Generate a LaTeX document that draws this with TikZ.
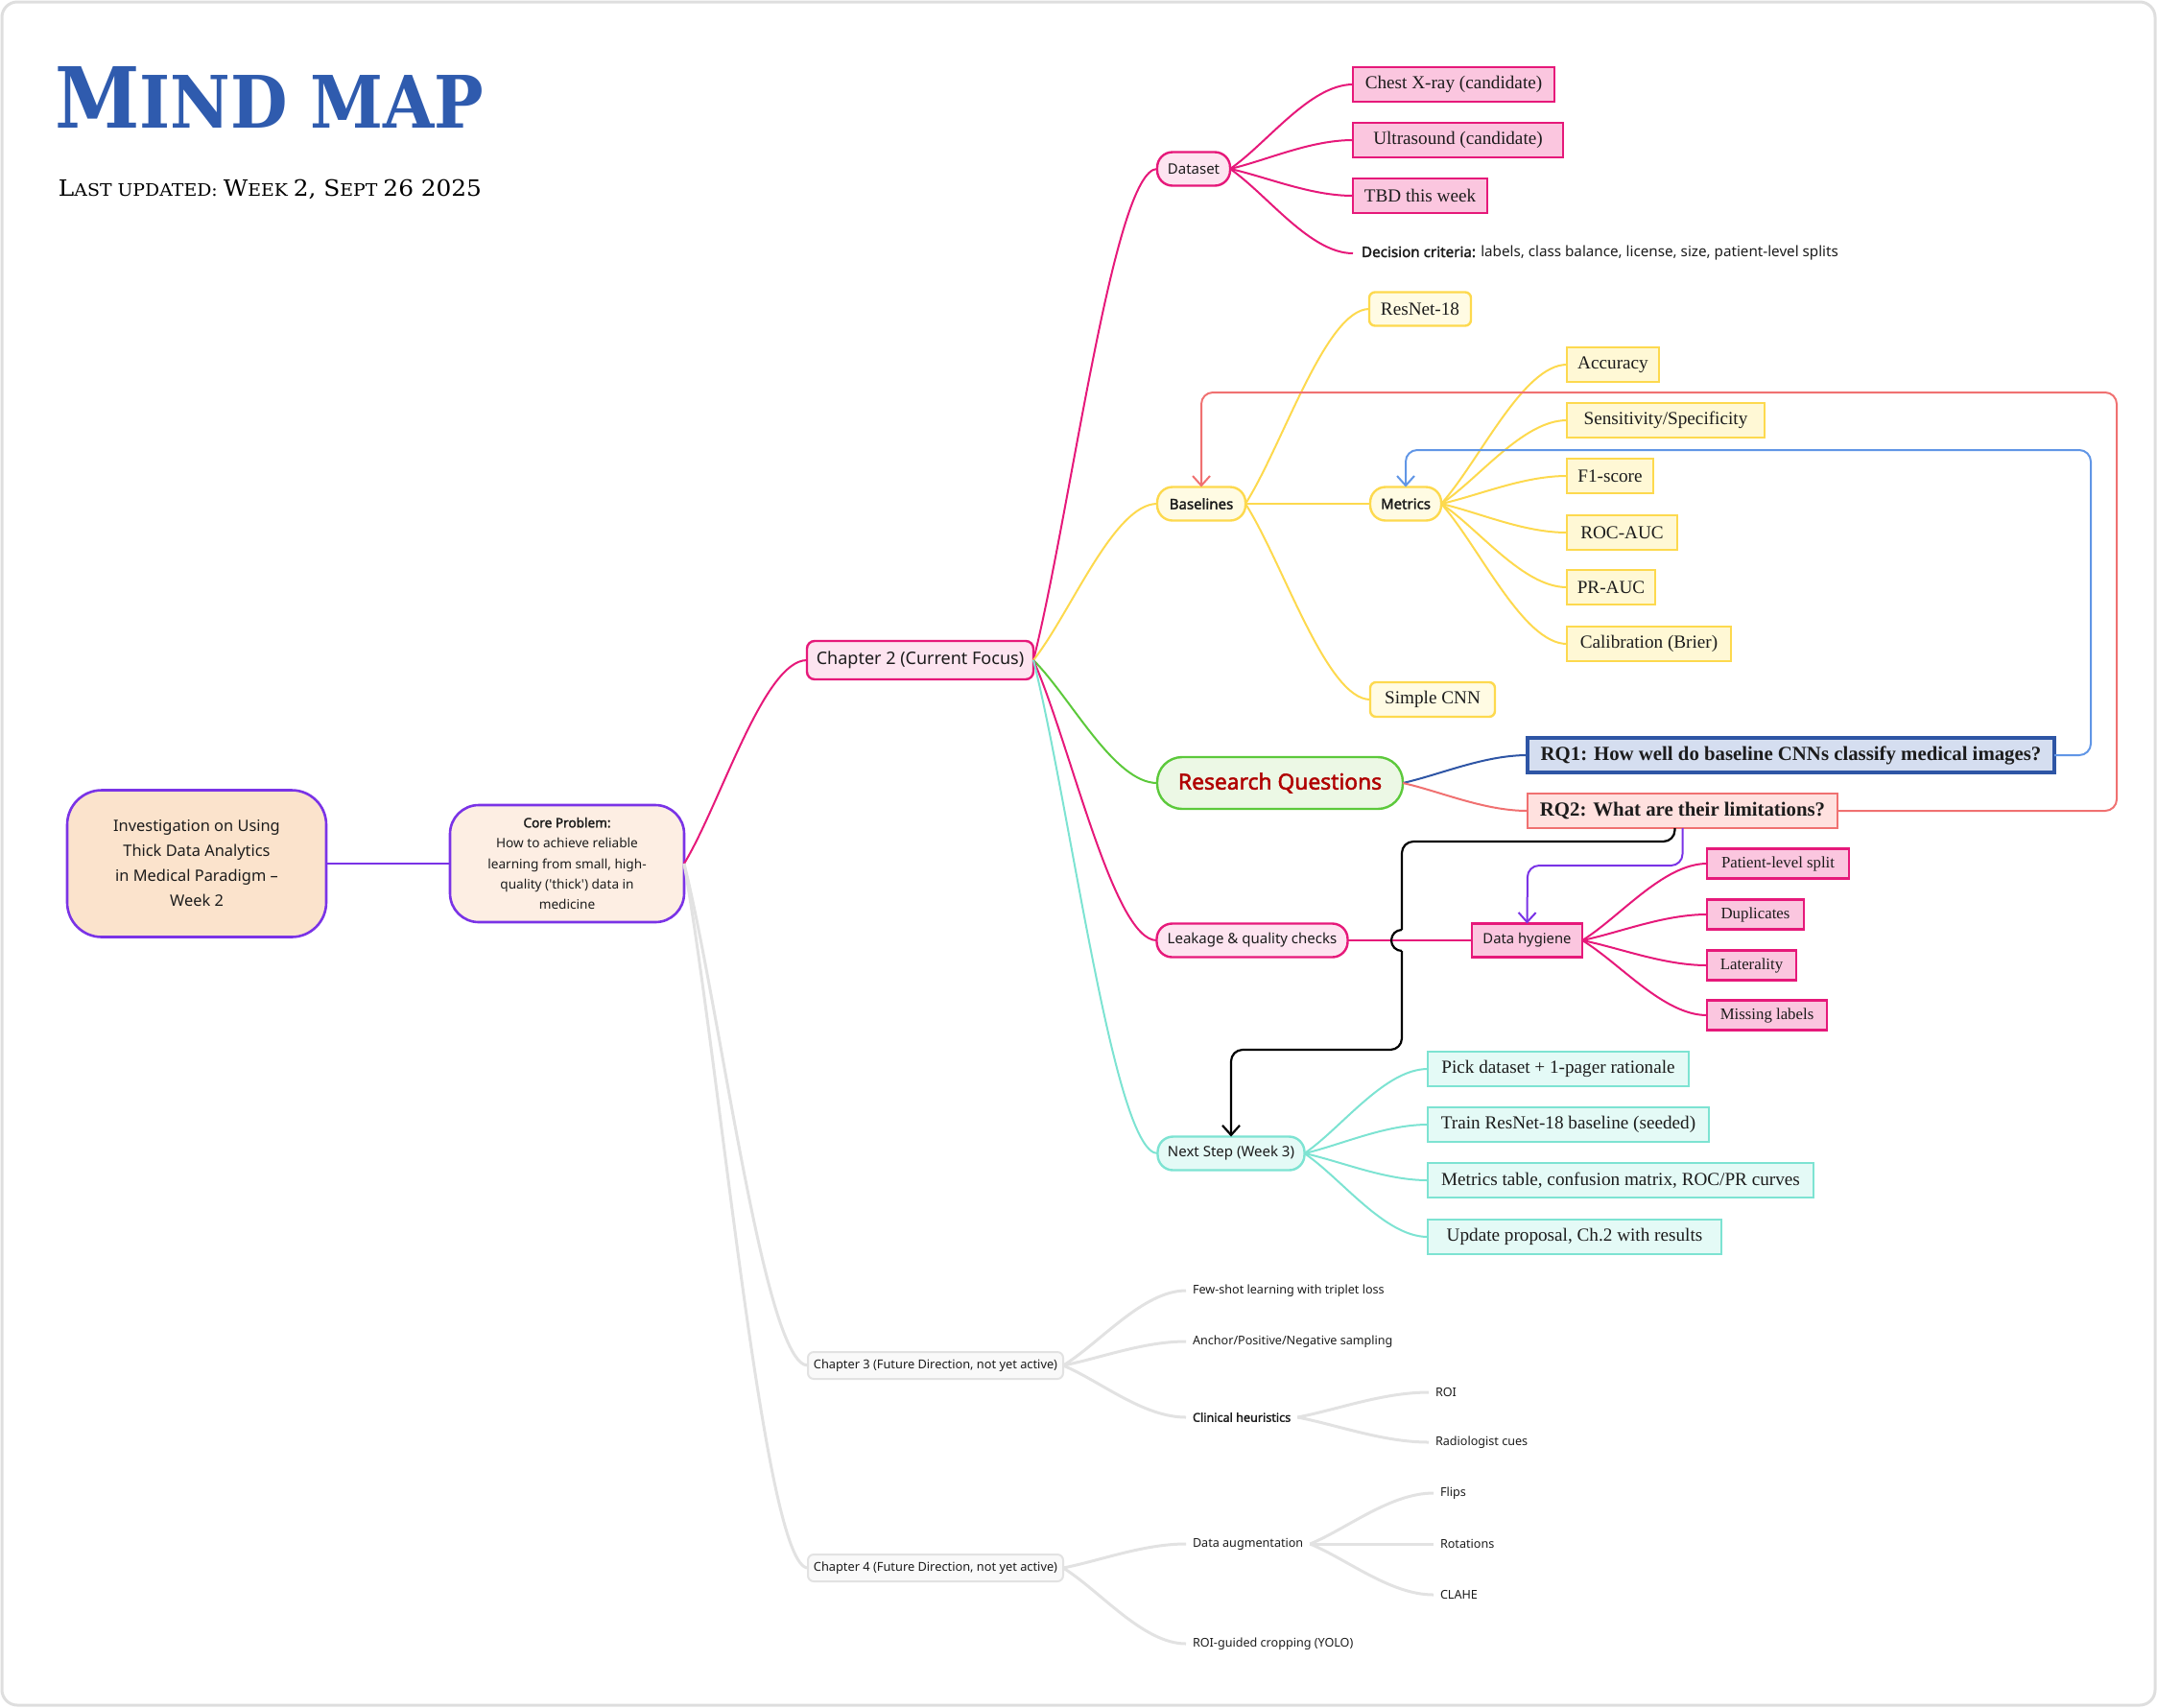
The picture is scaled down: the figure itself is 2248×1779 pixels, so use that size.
\documentclass[tikz,border=0pt]{standalone}
\usepackage{fontspec}
\setmainfont{Liberation Serif}
\newfontfamily\ns{Noto Sans}[AutoFakeBold=2]
\newfontfamily\slab{DejaVu Serif}
\usetikzlibrary{arrows.meta,calc}
\definecolor{mpink}{HTML}{E6197A}
\definecolor{pinkL}{HTML}{FDE4F0}
\definecolor{pinkR}{HTML}{FBC6DF}
\definecolor{myel}{HTML}{FDD94E}
\definecolor{yelL}{HTML}{FFFBE3}
\definecolor{yelR}{HTML}{FFF8D5}
\definecolor{mgreen}{HTML}{5CC93B}
\definecolor{greenL}{HTML}{ECF8E5}
\definecolor{rqred}{HTML}{B00000}
\definecolor{mteal}{HTML}{7DE3D2}
\definecolor{tealL}{HTML}{E4FAF6}
\definecolor{mpurp}{HTML}{7A33E6}
\definecolor{rootF}{HTML}{FBE3CC}
\definecolor{coreF}{HTML}{FDEEE3}
\definecolor{mgray}{HTML}{E2E2E2}
\definecolor{grayF}{HTML}{F9F9F9}
\definecolor{rqoneF}{HTML}{D5DEF0}
\definecolor{rqoneD}{HTML}{2E55A5}
\definecolor{rqtwoF}{HTML}{FFE1DF}
\definecolor{msalm}{HTML}{F07171}
\definecolor{mblue}{HTML}{6196E6}
\definecolor{titleblue}{HTML}{2F5BAE}
\definecolor{txt}{HTML}{1C1C1C}
\definecolor{frameG}{HTML}{DEDEDE}
\newcommand\mmA{\fontsize{11.7}{12}\selectfont}
\newcommand\mmB{\fontsize{8.9}{9}\selectfont}
\begin{document}
\begin{tikzpicture}[x=0.5pt,y=-0.5pt,
  every node/.style={text=txt, inner sep=0pt, outer sep=0pt, align=center},
  br/.style={to path={let \p1=(\tikztostart),\p2=(\tikztotarget) in .. controls ({\x1+0.3*(\x2-\x1)},{\y1+0.3*(\y2-\y1)}) and ({\x1+0.65*(\x2-\x1)},\y2) .. (\p2) \tikztonodes}},
  pill/.style={draw, line width=1.2pt, rounded corners=8pt, minimum height=17.5pt, font=\ns\fontsize{7.5}{9}\selectfont},
  pinkpill/.style={pill, draw=mpink, fill=pinkL},
  yelpill/.style={pill, draw=myel, fill=yelL, font=\ns\bfseries\fontsize{7.5}{9}\selectfont},
  tealpill/.style={pill, draw=mteal, fill=tealL},
  box/.style={draw, line width=1.2pt, minimum height=18pt, anchor=west, font=\fontsize{9.6}{11}\selectfont},
  pinkbox/.style={box, draw=mpink, fill=pinkR},
  yelbox/.style={box, draw=myel, fill=yelR},
  yelround/.style={box, draw=myel, fill=yelL, rounded corners=3pt},
  tealbox/.style={box, draw=mteal, fill=tealL},
  hygbox/.style={box, draw=mpink, fill=pinkR, minimum height=15.5pt, font=\fontsize{8.4}{10}\selectfont},
  future/.style={draw=mgray, fill=grayF, line width=1pt, rounded corners=3pt, minimum width=133pt, minimum height=14pt, font=\ns\fontsize{6.4}{7.5}\selectfont},
  leaf/.style={anchor=west, inner xsep=3.5pt, font=\ns\fontsize{6.3}{7.5}\selectfont},
  pinkln/.style={draw=mpink, line width=1pt},
  yelln/.style={draw=myel, line width=1pt},
  tealln/.style={draw=mteal, line width=1pt},
  grayln/.style={draw=mgray, line width=1.5pt},
  tip/.style={-{Straight Barb[length=5pt,width=9pt]}},
]
\useasboundingbox (0,0) rectangle (2248,1779);
\draw[frameG, line width=1.5pt, rounded corners=8pt] (2,2) rectangle (2246,1777);

% title
\node[anchor=base west, text=titleblue, xscale=0.91] (title) at (57,133) {\slab\bfseries\fontsize{43.9}{44}\selectfont M\fontsize{37.7}{38}\selectfont IND MAP};
\node[anchor=base west, text=black, xscale=1.06] (sub) at (61,204) {\slab\mmA L\mmB AST UPDATED: \mmA W\mmB EEK \mmA 2, S\mmB EPT \mmA 26 2025};

% main nodes
\node[draw=mpurp, fill=rootF, line width=1.3pt, rounded corners=18pt, minimum width=135pt, minimum height=76.5pt, font=\ns\fontsize{8.2}{13}\selectfont] (root) at (205,900) {Investigation on Using\\Thick Data Analytics\\in Medical Paradigm –\\Week 2};
\node[draw=mpurp, fill=coreF, line width=1.3pt, rounded corners=15pt, minimum width=122pt, minimum height=61pt, font=\ns\fontsize{6.8}{10.7}\selectfont] (core) at (591,900) {\textbf{Core Problem:}\\How to achieve reliable\\learning from small, high-\\quality ('thick') data in\\medicine};
\node[draw=mpink, fill=pinkL, line width=1.2pt, rounded corners=4pt, minimum width=118pt, minimum height=20pt, font=\ns\fontsize{9}{11}\selectfont] (ch2) at (959,688) {Chapter 2 (Current Focus)};
\node[future] (ch3) at (975,1423) {Chapter 3 (Future Direction, not yet active)};
\node[future] (ch4) at (975,1634) {Chapter 4 (Future Direction, not yet active)};

% chapter 2 children
\node[pinkpill, minimum width=38pt] (dataset) at (1244,176) {Dataset};
\node[yelpill, minimum width=46pt] (baselines) at (1252,525) {Baselines};
\node[pill, draw=mgreen, fill=greenL, rounded corners=13pt, minimum width=128pt, minimum height=27pt, text=rqred, font=\ns\bfseries\fontsize{11.4}{13}\selectfont] (rq) at (1334,816) {Research Questions};
\node[pinkpill, minimum width=99.5pt] (leak) at (1305,980) {Leakage \& quality checks};
\node[tealpill, minimum width=76.5pt] (next) at (1283,1202) {Next Step (Week 3)};

% dataset children
\node[pinkbox, minimum width=105pt] (chest) at (1410,88) {Chest X-ray (candidate)};
\node[pinkbox, minimum width=109.5pt] (ultra) at (1410,146) {Ultrasound (candidate)};
\node[pinkbox, minimum width=70pt] (tbd) at (1410,204) {TBD this week};
\node[anchor=west, inner xsep=4.5pt, font=\ns\fontsize{7.6}{9}\selectfont] (decision) at (1410,264) {\textbf{Decision criteria:} labels, class balance, license, size, patient-level splits};

% baselines children
\node[yelround, minimum width=53pt, minimum height=17.5pt] (resnet) at (1427,322) {ResNet-18};
\node[yelpill, minimum width=37pt] (metrics) at (1465,525) {Metrics};
\node[yelround, minimum width=65pt] (simplecnn) at (1428,729) {Simple CNN};

% metrics children
\node[yelbox, minimum width=48pt] (acc) at (1633,380) {Accuracy};
\node[yelbox, minimum width=103pt] (sens) at (1633,438) {Sensitivity/Specificity};
\node[yelbox, minimum width=45pt] (fone) at (1633,496) {F1-score};
\node[yelbox, minimum width=57.5pt] (roc) at (1633,555) {ROC-AUC};
\node[yelbox, minimum width=46pt] (prauc) at (1633,612) {PR-AUC};
\node[yelbox, minimum width=85.5pt] (calib) at (1633,671) {Calibration (Brier)};

% research questions
\node[box, draw=rqoneD, fill=rqoneF, line width=1.6pt, minimum width=274.5pt, font=\bfseries\fontsize{10.4}{12}\selectfont] (rqone) at (1592,787) {RQ1: How well do baseline CNNs classify medical images?};
\node[box, draw=msalm, fill=rqtwoF, line width=1.4pt, minimum width=161.5pt, font=\bfseries\fontsize{10.4}{12}\selectfont] (rqtwo) at (1592,845) {RQ2: What are their limitations?};

% hygiene
\node[box, draw=mpink, fill=pinkR, minimum width=57.5pt, minimum height=17.5pt, font=\ns\fontsize{7.4}{9}\selectfont] (hyg) at (1534,980) {Data hygiene};
\node[hygbox, minimum width=74pt] (patient) at (1779,900) {Patient-level split};
\node[hygbox, minimum width=50.5pt] (dup) at (1779,953) {Duplicates};
\node[hygbox, minimum width=46.5pt] (lat) at (1779,1006) {Laterality};
\node[hygbox, minimum width=62.5pt] (missing) at (1779,1058) {Missing labels};

% next step children
\node[tealbox, minimum width=136pt] (pick) at (1488,1114) {Pick dataset + 1-pager rationale};
\node[tealbox, minimum width=146.5pt] (train) at (1488,1172) {Train ResNet-18 baseline (seeded)};
\node[tealbox, minimum width=201pt] (mtable) at (1488,1230) {Metrics table, confusion matrix, ROC/PR curves};
\node[tealbox, minimum width=153pt] (update) at (1488,1289) {Update proposal, Ch.2 with results};

% chapter 3 / 4 leaves
\node[leaf] (fewshot) at (1236,1345) {Few-shot learning with triplet loss};
\node[leaf] (anchorpn) at (1236,1398) {Anchor/Positive/Negative sampling};
\node[leaf, font=\ns\bfseries\fontsize{6.3}{7.5}\selectfont] (clinical) at (1236,1477) {Clinical heuristics};
\node[leaf] (roi) at (1489,1451) {ROI};
\node[leaf] (radcues) at (1489,1503) {Radiologist cues};
\node[leaf] (aug) at (1236,1609) {Data augmentation};
\node[leaf] (roicrop) at (1236,1713) {ROI-guided cropping (YOLO)};
\node[leaf] (flips) at (1494,1556) {Flips};
\node[leaf] (rot) at (1494,1609) {Rotations};
\node[leaf] (clahe) at (1494,1662) {CLAHE};

% tree connectors
\draw[draw=mpurp, line width=1.3pt] (root.east) -- (core.west);
\draw[pinkln] (core.east) to[br] (ch2.west);
\draw[grayln] (core.east) to[br] (ch3.west);
\draw[grayln] (core.east) to[br] (ch4.west);

\draw[pinkln] (ch2.east) to[br] (dataset.west);
\draw[yelln] (ch2.east) to[br] (baselines.west);
\draw[draw=mgreen, line width=1pt] (ch2.east) to[br] (rq.west);
\draw[pinkln] (ch2.east) to[br] (leak.west);
\draw[tealln] (ch2.east) to[br] (next.west);

\foreach \c in {chest,ultra,tbd,decision} \draw[pinkln] (dataset.east) to[br] (\c.west);
\foreach \c in {resnet,metrics,simplecnn} \draw[yelln] (baselines.east) to[br] (\c.west);
\foreach \c in {acc,sens,fone,roc,prauc,calib} \draw[yelln] (metrics.east) to[br] (\c.west);
\draw[draw=rqoneD, line width=1pt] (rq.east) to[br] (rqone.west);
\draw[draw=msalm, line width=1pt] (rq.east) to[br] (rqtwo.west);
\draw[pinkln] (leak.east) -- (hyg.west);
\foreach \c in {patient,dup,lat,missing} \draw[pinkln] (hyg.east) to[br] (\c.west);
\foreach \c in {pick,train,mtable,update} \draw[tealln] (next.east) to[br] (\c.west);
\foreach \c in {fewshot,anchorpn,clinical} \draw[grayln] (ch3.east) to[br] (\c.west);
\foreach \c in {roi,radcues} \draw[grayln] (clinical.east) to[br] (\c.west);
\foreach \c in {aug,roicrop} \draw[grayln] (ch4.east) to[br] (\c.west);
\foreach \c in {flips,rot,clahe} \draw[grayln] (aug.east) to[br] (\c.west);

% cross links
\coordinate (rt) at (2206,409);
\coordinate (bt) at (2179,469);
\coordinate (pm) at (1592,902);
\coordinate (kbone) at (1461,877);
\coordinate (hopT) at (1461,969);
\coordinate (hopB) at (1461,991);
\coordinate (kbtwo) at (1461,1094);
\draw[msalm, line width=1pt, rounded corners=6pt, tip] (rqtwo.east) -| (rt) -| (baselines.north);
\draw[mblue, line width=1pt, rounded corners=6pt, tip] (rqone.east) -| (bt) -| (metrics.north);
\draw[mpurp, line width=1pt, rounded corners=6pt, tip] (rqtwo.south) |- (pm) -- (hyg.north);
\draw[black, line width=1.1pt, rounded corners=6pt] ($(rqtwo.south)+(-8,0)$) |- (kbone) -- (hopT);
\draw[black, line width=1.1pt] (hopT) arc[start angle=270, end angle=90, radius=11];
\draw[black, line width=1.1pt, rounded corners=6pt, tip] (hopB) -- (kbtwo) -| (next.north);
\end{tikzpicture}
\end{document}
